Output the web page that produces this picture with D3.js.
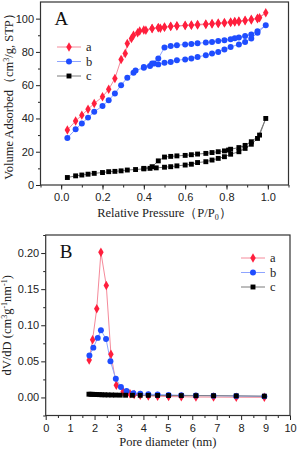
<!DOCTYPE html>
<html>
<head>
<meta charset="utf-8">
<script src="https://cdn.jsdelivr.net/npm/d3@7"></script>
<style>
  body { margin: 0; background: #fff; }
  svg { display: block; }
  .tick text { font-family: "Liberation Sans", Arial, sans-serif; font-size: 11px; fill: #222; }
  .title { font-family: "Liberation Serif", "Times New Roman", serif; font-size: 12.5px; fill: #222; }
  .panel { font-family: "Liberation Serif", "Times New Roman", serif; font-size: 19px; fill: #111; }
</style>
</head>
<body>
<div id="container"></div>
<script>
// Panel A: N2 isotherms (adsorption then desorption)
const isoA_p = [0.03, 0.07, 0.10, 0.13, 0.16, 0.20, 0.23, 0.26, 0.29, 0.31, 0.32, 0.34, 0.35, 0.37, 0.38, 0.41, 0.44, 0.47, 0.48, 0.50, 0.53, 0.56, 0.60, 0.63, 0.66, 0.70, 0.73, 0.76, 0.79, 0.82, 0.84, 0.86, 0.89, 0.92, 0.95, 0.96, 0.99,
  0.95, 0.92, 0.89, 0.86, 0.84, 0.82, 0.79, 0.76, 0.73, 0.70, 0.66, 0.63, 0.60, 0.56, 0.53, 0.50, 0.47, 0.44, 0.40];
const isoA_v = [33, 38.5, 42, 45.5, 49, 53, 57.5, 64, 75.5, 79, 85, 88, 90, 91.5, 92.5, 93, 94, 94.5, 94.2, 94.8, 95.3, 95.5, 95.8, 96, 96.2, 96.5, 96.8, 97, 97.3, 97.7, 98, 98.2, 98.7, 99.2, 100, 100.5, 103.5,
  100.3, 99.6, 99, 98.6, 98.3, 98, 97.7, 97.4, 97.1, 96.8, 96.5, 96.2, 96, 95.7, 95.4, 95, 94.6, 94, 93.2];
const isoB_p = [0.03, 0.07, 0.10, 0.13, 0.16, 0.20, 0.23, 0.26, 0.29, 0.32, 0.35, 0.36, 0.40, 0.43, 0.45, 0.47, 0.50, 0.53, 0.56, 0.60, 0.63, 0.66, 0.70, 0.73, 0.76, 0.79, 0.82, 0.86, 0.89, 0.92, 0.95, 0.99,
  0.95, 0.92, 0.89, 0.86, 0.84, 0.82, 0.79, 0.76, 0.73, 0.70, 0.66, 0.63, 0.60, 0.56, 0.53, 0.50, 0.47, 0.44, 0.40];
const isoB_v = [28.3, 33.5, 37, 40.5, 44, 47.5, 51, 55, 60, 64.5, 67.5, 68.8, 70.5, 71.5, 73, 72.5, 73.5, 74, 75, 75.5, 76, 77, 78, 79, 80, 81.5, 83, 84.5, 86, 88, 91.5, 96,
  92.5, 90.5, 89.5, 88.7, 88.2, 87.6, 87, 86.5, 86, 85.6, 85.2, 84.8, 84.5, 84, 83.5, 82.7, 76, 73, 71];
const isoC_p = [0.03, 0.07, 0.10, 0.13, 0.16, 0.20, 0.23, 0.26, 0.29, 0.32, 0.36, 0.40, 0.43, 0.46, 0.50, 0.53, 0.56, 0.60, 0.63, 0.66, 0.70, 0.73, 0.76, 0.79, 0.82, 0.86, 0.89, 0.92, 0.95, 0.99,
  0.96, 0.92, 0.89, 0.86, 0.82, 0.81, 0.79, 0.76, 0.73, 0.70, 0.66, 0.63, 0.60, 0.56, 0.53, 0.50, 0.47, 0.44, 0.40];
const isoC_v = [4.5, 5.5, 6, 6.5, 7, 7.5, 8, 8.2, 8.5, 9, 9.3, 9.7, 10, 10.3, 10.7, 11, 11.5, 12, 12.5, 13.5, 14, 15, 16, 17, 18.5, 20, 22, 24.5, 28, 40,
  30, 26, 23.8, 22.5, 21.5, 21, 20.5, 20, 19.5, 19, 18.6, 18.2, 17.8, 17.5, 17.2, 16.8, 14.5, 11, 10];

// Panel B: pore size distribution
const psdA_d = [1.78, 1.92, 2.09, 2.26, 2.48, 2.67, 2.89, 3.17, 3.45, 3.62, 3.87, 4.20, 4.58, 5.03, 5.55, 6.15, 6.87, 7.80, 8.95];
const psdA_v = [0.052, 0.080, 0.123, 0.201, 0.155, 0.060, 0.017, 0.008, 0.005, 0.004, 0.003, 0.002, 0.0018, 0.0012, 0.001, 0.0006, 0.0005, 0.0003, 0.0002];
const psdB_d = [1.79, 1.95, 2.13, 2.26, 2.47, 2.65, 2.87, 3.08, 3.31, 3.59, 3.87, 4.20, 4.58, 5.03, 5.55, 6.15, 6.87, 7.80, 8.95];
const psdB_v = [0.058, 0.069, 0.0825, 0.093, 0.081, 0.050, 0.026, 0.0145, 0.0088, 0.006, 0.005, 0.0045, 0.004, 0.0035, 0.003, 0.0027, 0.0025, 0.002, 0.0015];
const psdC_d = [1.77, 1.85, 1.93, 2.01, 2.10, 2.20, 2.30, 2.42, 2.55, 2.70, 2.86, 3.05, 3.27, 3.55, 3.87, 4.20, 4.58, 5.03, 5.55, 6.15, 6.87, 7.80, 8.95];
const psdC_v = [0.0045, 0.0044, 0.0043, 0.0042, 0.004, 0.0039, 0.0037, 0.0036, 0.0035, 0.0034, 0.0033, 0.0032, 0.0031, 0.003, 0.003, 0.0029, 0.0028, 0.0027, 0.0026, 0.0025, 0.0024, 0.0022, 0.0018];

const seriesNames = ['a', 'b', 'c'];
const markerColor = ['#ff1f3d', '#1f4dff', '#000000'];
const lineColor = ['#f58a9a', '#8ea4ff', '#7a7a7a'];
const markerType = [d3.symbolDiamond, d3.symbolCircle, d3.symbolSquare];
const markerSize = [26, 28, 24];

const xTicksA = [0.0, 0.2, 0.4, 0.6, 0.8, 1.0];
const yTicksA = [0, 20, 40, 60, 80, 100];
const xTicksB = [0, 1, 2, 3, 4, 5, 6, 7, 8, 9, 10];
const yTicksB = [0.00, 0.05, 0.10, 0.15, 0.20];

const W = 297, H = 451;
const svg = d3.select('#container').append('svg').attr('width', W).attr('height', H);

function zip(xs, ys) { return xs.map((x, i) => [x, ys[i]]); }

function drawPanel(cfg) {
  const x = d3.scaleLinear().domain(cfg.xDomain).range(cfg.xRange);
  const y = d3.scaleLinear().domain(cfg.yDomain).range(cfg.yRange);
  const g = svg.append('g');

  // minor ticks
  g.append('g').attr('transform', `translate(0,${cfg.yRange[0]})`)
    .call(d3.axisBottom(x).tickValues(cfg.xMinor).tickSize(2.5).tickFormat(''))
    .call(a => a.select('.domain').remove());
  g.append('g').attr('transform', `translate(${cfg.xRange[0]},0)`)
    .call(d3.axisLeft(y).tickValues(cfg.yMinor).tickSize(2.5).tickFormat(''))
    .call(a => a.select('.domain').remove());

  g.append('g').attr('transform', `translate(0,${cfg.yRange[0]})`)
    .call(d3.axisBottom(x).tickValues(cfg.xTicks).tickSize(4.5).tickPadding(4).tickFormat(cfg.xFmt))
    .call(a => a.select('.domain').remove());
  g.append('g').attr('transform', `translate(${cfg.xRange[0]},0)`)
    .call(d3.axisLeft(y).tickValues(cfg.yTicks).tickSize(4.5).tickPadding(2).tickFormat(cfg.yFmt))
    .call(a => a.select('.domain').remove());
  g.selectAll('.tick line').attr('stroke', '#222');

  g.append('rect')
    .attr('x', cfg.xRange[0]).attr('y', cfg.yRange[1])
    .attr('width', cfg.xRange[1] - cfg.xRange[0]).attr('height', cfg.yRange[0] - cfg.yRange[1])
    .attr('fill', 'none').attr('stroke', '#333').attr('stroke-width', 1.2);

  const line = d3.line().x(d => x(d[0])).y(d => y(d[1]));
  cfg.series.forEach((pts, i) => {
    g.append('path').datum(pts)
      .attr('d', line).attr('fill', 'none')
      .attr('stroke', lineColor[i]).attr('stroke-width', 1);
  });
  cfg.series.forEach((pts, i) => {
    g.append('g').selectAll('path').data(pts).join('path')
      .attr('transform', d => `translate(${x(d[0])},${y(d[1])})`)
      .attr('d', d3.symbol(markerType[i], markerSize[i]))
      .attr('fill', markerColor[i]);
  });

  // legend
  seriesNames.forEach((name, i) => {
    const ly = cfg.legendY + i * 14.5;
    g.append('line')
      .attr('x1', cfg.legendX).attr('x2', cfg.legendX + 24)
      .attr('y1', ly).attr('y2', ly)
      .attr('stroke', lineColor[i]).attr('stroke-width', 1);
    g.append('path')
      .attr('transform', `translate(${cfg.legendX + 12},${ly})`)
      .attr('d', d3.symbol(markerType[i], markerSize[i]))
      .attr('fill', markerColor[i]);
    g.append('text').attr('class', 'title')
      .attr('x', cfg.legendX + 29).attr('y', ly + 4)
      .text(name);
  });

  g.append('text').attr('class', 'panel')
    .attr('x', cfg.xRange[0] + 14).attr('y', cfg.yRange[1] + 23)
    .text(cfg.label);

  g.append('text').attr('class', 'title')
    .attr('x', (cfg.xRange[0] + cfg.xRange[1]) / 2).attr('y', cfg.xTitleY)
    .attr('text-anchor', 'middle')
    .html(cfg.xTitle);
  g.append('text').attr('class', 'title')
    .attr('transform', `translate(${cfg.yTitleX},${(cfg.yRange[0] + cfg.yRange[1]) / 2}) rotate(-90)`)
    .attr('text-anchor', 'middle')
    .html(cfg.yTitle);
}

drawPanel({
  xDomain: [-0.1, 1.1], xRange: [40.5, 288.5],
  yDomain: [0, 110], yRange: [185, 2],
  xTicks: xTicksA, yTicks: yTicksA,
  xMinor: d3.range(-0.1, 1.101, 0.1), yMinor: d3.range(10, 110, 20),
  xFmt: d3.format('.1f'), yFmt: d3.format('d'),
  series: [zip(isoA_p, isoA_v), zip(isoB_p, isoB_v), zip(isoC_p, isoC_v)],
  legendX: 57, legendY: 47,
  label: 'A',
  xTitle: 'Relative Pressure\uFF08P/P<tspan font-size="8" dy="3">0</tspan><tspan dy="-3">\uFF09</tspan>',
  xTitleY: 217,
  yTitle: 'Volume Adsorbed\uFF08cm<tspan font-size="8" dy="-4">3</tspan><tspan dy="4">/g, STP\uFF09</tspan>',
  yTitleX: 13
});

drawPanel({
  xDomain: [0, 10], xRange: [45.7, 290],
  yDomain: [-0.025, 0.225], yRange: [415.5, 235],
  xTicks: xTicksB, yTicks: yTicksB,
  xMinor: d3.range(0.5, 10, 1), yMinor: d3.range(-0.025, 0.226, 0.05),
  xFmt: d3.format('d'), yFmt: d3.format('.2f'),
  series: [zip(psdA_d, psdA_v), zip(psdB_d, psdB_v), zip(psdC_d, psdC_v)],
  legendX: 241, legendY: 258,
  label: 'B',
  xTitle: 'Pore diameter (nm)',
  xTitleY: 446,
  yTitle: 'dV/dD (cm<tspan font-size="8" dy="-4">3</tspan><tspan dy="4">g</tspan><tspan font-size="8" dy="-4">-1</tspan><tspan dy="4">nm</tspan><tspan font-size="8" dy="-4">-1</tspan><tspan dy="4">)</tspan>',
  yTitleX: 11
});
</script>
</body>
</html>
